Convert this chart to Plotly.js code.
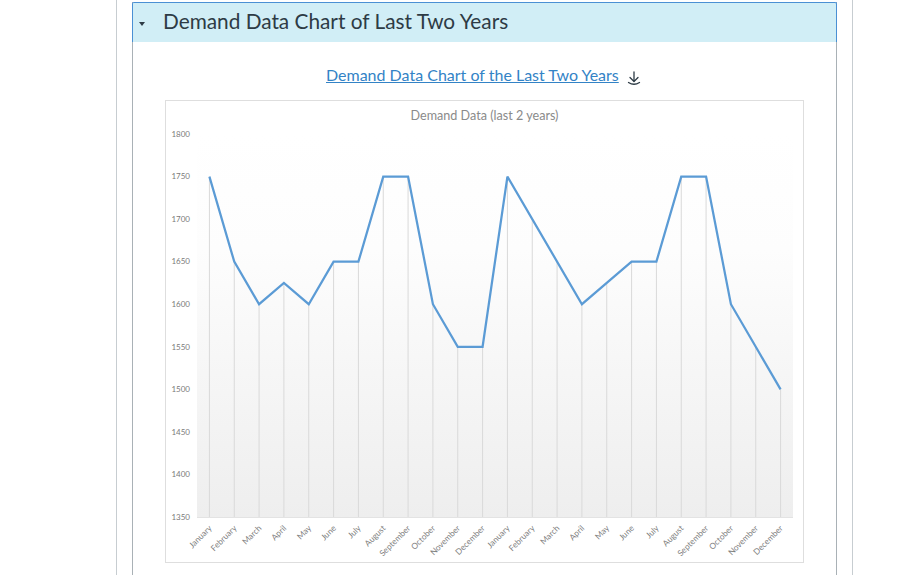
<!DOCTYPE html>
<html>
<head>
<meta charset="utf-8">
<script src="https://cdn.plot.ly/plotly-3.0.1.min.js"></script>
<style>
  html, body { margin:0; padding:0; background:#fff; width:902px; height:575px; overflow:hidden; font-family: Lato, "Open Sans", sans-serif; }
  .vline { position:absolute; top:0; width:1px; height:575px; background:#c7cdd1; }
  #acc { position:absolute; left:132px; top:2px; width:703px; height:573px; border-left:1px solid #a9b1b6; border-right:1px solid #a9b1b6; }
  #head { position:absolute; left:-1px; top:0; width:703px; height:39px; background:#d1eef6; border:1px solid #4a90d4; border-bottom:none; border-radius:2px 2px 0 0; }
  #tri { position:absolute; left:6px; top:19px; width:0; height:0; border-left:3px solid transparent; border-right:3px solid transparent; border-top:4px solid #2d3b45; }
  #htext { position:absolute; left:30px; top:4px; font-size:20.8px; color:#2d3b45; line-height:28px; white-space:nowrap; }
  #link { position:absolute; left:326px; top:65px; font-size:16px; color:#3383c6; text-decoration:underline; white-space:nowrap; line-height:20px; }
  #icon { position:absolute; left:627px; top:71px; }
  #chartbox { position:absolute; left:165px; top:100px; width:637px; height:461px; border:1px solid #dedede; background:#fff; }
  #chart { width:637px; height:461px; }
</style>
</head>
<body>
<div class="vline" style="left:116px"></div>
<div class="vline" style="left:852px"></div>
<div id="acc">
  <div id="head"><div id="tri"></div><div id="htext">Demand Data Chart of Last Two Years</div></div>
</div>
<div id="link">Demand Data Chart of the Last Two Years</div>
<svg id="icon" width="14" height="15" viewBox="0 0 14 15">
  <g fill="none" stroke="#2d3b45" stroke-width="1.3" stroke-linecap="round" stroke-linejoin="round">
    <line x1="7" y1="1" x2="7" y2="10"/>
    <polyline points="3,6.5 7,10.5 11,6.5"/>
    <path d="M1.5,11.5 Q7,15 12.5,11.5"/>
  </g>
</svg>
<div id="chartbox"><div id="chart"></div></div>
<script>
const chartTitle = 'Demand Data (last 2 years)';
const months = ['January','February','March','April','May','June','July','August','September','October','November','December',
                'January','February','March','April','May','June','July','August','September','October','November','December'];
const demand = [1750,1650,1600,1625,1600,1650,1650,1750,1750,1600,1550,1550,
                1750,1700,1650,1600,1625,1650,1650,1750,1750,1600,1550,1500];
const yTicks = [1350,1400,1450,1500,1550,1600,1650,1700,1750,1800];

const yMin = yTicks[0], yMax = yTicks[yTicks.length-1];
const idx = months.map((m,i)=>i);

const gradSvg = '<svg xmlns="http://www.w3.org/2000/svg" width="10" height="100" preserveAspectRatio="none" viewBox="0 0 10 100">' +
  '<defs><linearGradient id="g" x1="0" y1="0" x2="0" y2="1">' +
  '<stop offset="0" stop-color="#ffffff"/><stop offset="0.3" stop-color="#fdfdfd"/><stop offset="1" stop-color="#eeeeee"/>' +
  '</linearGradient></defs><rect width="10" height="100" fill="url(#g)"/></svg>';
const gradUri = 'data:image/svg+xml;charset=utf-8,' + encodeURIComponent(gradSvg);

const dropTrace = {
  x: idx, y: demand, type:'scatter', mode:'markers',
  marker:{size:0.1, color:'rgba(0,0,0,0)'},
  error_y:{type:'data', symmetric:false, array: demand.map(()=>0), arrayminus: demand.map(v=>v-yMin),
           color:'#d9d9d9', thickness:1, width:0},
  hoverinfo:'skip', showlegend:false
};
const lineTrace = {
  x: idx, y: demand, type:'scatter', mode:'lines',
  line:{color:'#5b9bd5', width:2.25},
  showlegend:false
};

const layout = {
  width:637, height:461,
  margin:{l:31, r:10, t:33, b:45},
  paper_bgcolor:'#ffffff', plot_bgcolor:'rgba(0,0,0,0)',
  font:{family:'Lato, "Open Sans", sans-serif', color:'#7f7f7f'},
  title:{text:chartTitle, x:0.5, xref:'container', xanchor:'center', y:0.968, yref:'container', yanchor:'middle',
         font:{size:12.6, color:'#8a8a8a', family:'Lato, "Open Sans", sans-serif'}},
  xaxis:{range:[-0.5, months.length-0.5], tickvals:idx, ticktext:months, tickangle:-45,
         tickfont:{size:8.3, color:'#808080'}, showgrid:false, zeroline:false, showline:true, linecolor:'#e3e3e3', linewidth:1,
         ticks:'', ticklabelstandoff:2, fixedrange:true},
  yaxis:{range:[yMin, yMax], tickvals:yTicks, ticktext:yTicks.map(String), tickfont:{size:8, color:'#7a7a7a'},
         showgrid:false, zeroline:false, showline:false, ticks:'', ticklabelstandoff:6, fixedrange:true},
  images:[{source:gradUri, xref:'paper', yref:'paper', x:0, y:1, sizex:1, sizey:1, sizing:'stretch',
           xanchor:'left', yanchor:'top', layer:'below'}]
};
Plotly.newPlot('chart', [dropTrace, lineTrace], layout, {displayModeBar:false, staticPlot:true});
</script>
</body>
</html>
